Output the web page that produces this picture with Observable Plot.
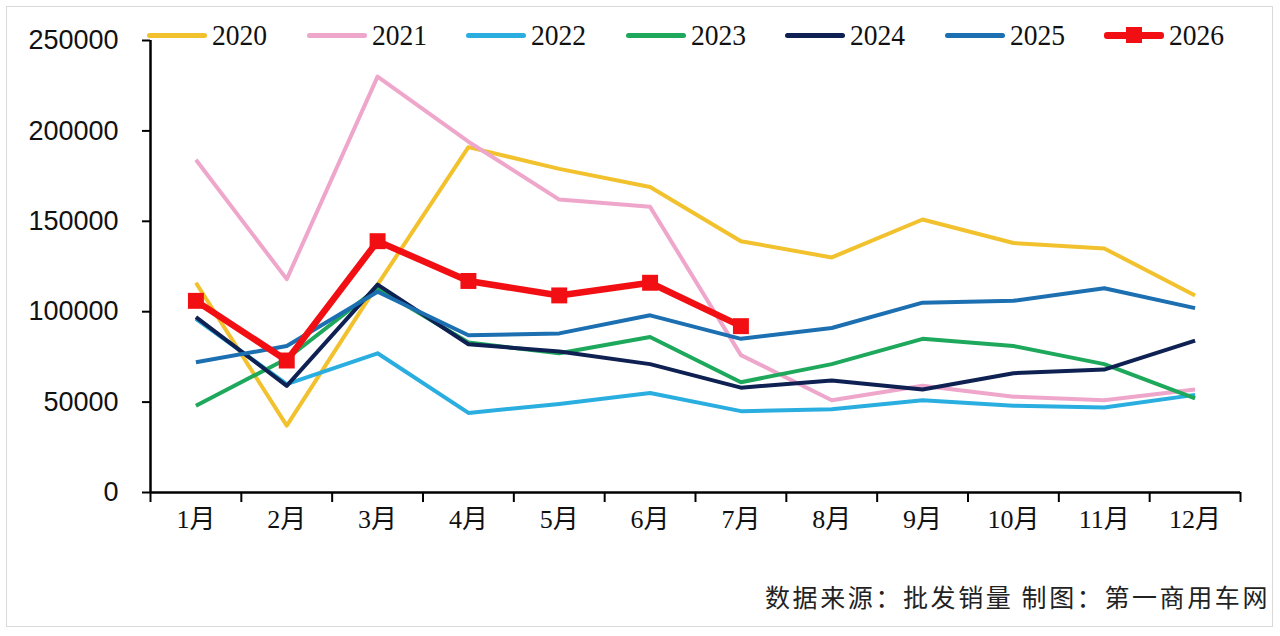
<!DOCTYPE html>
<html>
<head>
<meta charset="utf-8">
<script src="https://cdn.jsdelivr.net/npm/d3@7"></script>
<script src="https://cdn.jsdelivr.net/npm/@observablehq/plot@0.6"></script>
<style>
  html, body { margin: 0; padding: 0; background: #fff; }
  #wrap { position: relative; width: 1280px; height: 636px; overflow: hidden; }
  #frame { position: absolute; left: 6px; top: 6px; width: 1267px; height: 621px; border: 1.5px solid #d9d9d9; box-sizing: border-box; }
  #chart { position: absolute; left: 0; top: 0; }
  #legend { position: absolute; left: 147px; top: 16px; display: flex; }
  .item { width: 159.5px; display: flex; align-items: center; height: 38px; }
  .sw { position: relative; width: 60px; height: 5px; border-radius: 3px; margin-right: 5px; }
  .sw .mk { position: absolute; left: 22px; top: -6px; width: 16px; height: 16px; }
  .lab { font-family: "Liberation Serif", serif; font-size: 29px; color: #111; display: inline-block; transform: scaleX(0.95); transform-origin: left center; }
  #caption { position: absolute; right: 10px; top: 578px; font-family: "Noto Sans CJK SC", sans-serif; font-size: 25px; letter-spacing: 2.6px; color: #222; white-space: pre; }
</style>
</head>
<body>
<div id="wrap">
  <div id="frame"></div>
  <div id="chart"></div>
  <div id="legend"></div>
  <div id="caption">数据来源：批发销量 制图：第一商用车网</div>
</div>
<script>
const months = ["1月","2月","3月","4月","5月","6月","7月","8月","9月","10月","11月","12月"];
const years = ["2020","2021","2022","2023","2024","2025","2026"];
const colors = ["#F2C12E","#EFA6CB","#2AAEE0","#1EA85B","#0E2152","#1C6FB0","#F20F13"];
const yTicks = [0, 50000, 100000, 150000, 200000, 250000];

const s2020 = [116000, 37000, 115000, 191000, 179000, 169000, 139000, 130000, 151000, 138000, 135000, 109000];
const s2021 = [184000, 118000, 230000, 194000, 162000, 158000, 76000, 51000, 59000, 53000, 51000, 57000];
const s2022 = [96000, 60000, 77000, 44000, 49000, 55000, 45000, 46000, 51000, 48000, 47000, 54000];
const s2023 = [48000, 74000, 113000, 83000, 77000, 86000, 61000, 71000, 85000, 81000, 71000, 52000];
const s2024 = [97000, 59000, 115000, 82000, 78000, 71000, 58000, 62000, 57000, 66000, 68000, 84000];
const s2025 = [72000, 81000, 111000, 87000, 88000, 98000, 85000, 91000, 105000, 106000, 113000, 102000];
const s2026 = [106000, 73000, 139000, 117000, 109000, 116000, 92000];

const series = [s2020, s2021, s2022, s2023, s2024, s2025, s2026];
const rows = [];
series.forEach((arr, k) => arr.forEach((v, i) => rows.push({year: years[k], m: i + 1, v})));

const monthIdx = months.map((_, i) => i + 1);
const bounds = [0.5, ...monthIdx.map(i => i + 0.5)];

const lineMarks = years.map((y, k) => Plot.line(rows.filter(d => d.year === y), {
  x: "m", y: "v", stroke: colors[k],
  strokeWidth: y === "2026" ? 6.5 : 4,
  strokeLinejoin: "round", strokeLinecap: "butt"
}));

const chart = Plot.plot({
  width: 1280,
  height: 636,
  marginLeft: 150,
  marginRight: 40,
  marginTop: 40,
  marginBottom: 144,
  style: {background: "transparent", overflow: "visible"},
  x: {type: "linear", domain: [0.5, 12.5]},
  y: {type: "linear", domain: [0, 250000]},
  marks: [
    ...lineMarks,
    Plot.dot(rows.filter(d => d.year === "2026"), {x: "m", y: "v", symbol: "square", r: 9, fill: colors[6], stroke: "none"}),
    Plot.ruleX([0.5], {y1: 0, y2: 250000, stroke: "#000", strokeWidth: 2.5}),
    Plot.ruleY([0], {x1: 0.5, x2: 12.5, stroke: "#000", strokeWidth: 2.5}),
    Plot.axisY({ticks: yTicks, tickSize: 8, tickPadding: 24, strokeWidth: 2, stroke: "#000",
      tickFormat: d => String(d), fontSize: 27, fontFamily: "Liberation Sans, Arial, sans-serif", fill: "#111", label: null}),
    Plot.axisX({ticks: bounds, tickSize: 10, strokeWidth: 2, stroke: "#000", tickFormat: () => "", label: null}),
    Plot.axisX({ticks: monthIdx, tickSize: 0, tickPadding: 17, tickFormat: i => months[i - 1],
      fontSize: 26, fontFamily: "Liberation Serif, Noto Sans CJK SC, serif", fill: "#111", label: null})
  ]
});
document.getElementById("chart").appendChild(chart);

const legend = document.getElementById("legend");
years.forEach((y, k) => {
  const it = document.createElement("div");
  it.className = "item";
  const sw = document.createElement("span");
  sw.className = "sw";
  sw.style.background = colors[k];
  if (y === "2026") {
    sw.style.height = "7px";
    const mk = document.createElement("span");
    mk.className = "mk";
    mk.style.background = colors[k];
    mk.style.top = "-4.5px";
    sw.appendChild(mk);
  }
  const lab = document.createElement("span");
  lab.className = "lab";
  lab.textContent = y;
  it.appendChild(sw);
  it.appendChild(lab);
  legend.appendChild(it);
});
</script>
</body>
</html>
